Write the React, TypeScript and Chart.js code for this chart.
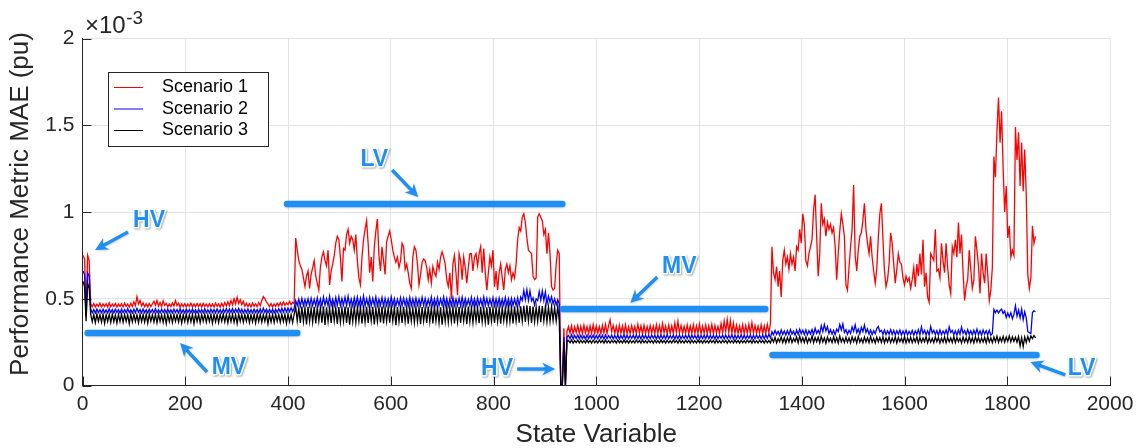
import React, { useEffect, useRef } from 'react';
import { Chart, registerables } from 'chart.js';

Chart.register(...registerables);

// ---------------- DATA (values in units of 10^-3 pu) ----------------
// Samples every 3rd state variable; each segment starts at the given state variable.
const STATE_STEP = 3;
const SEGMENT_START = [1, 16, 415, 931, 946, 1342];

const X_TICKS = [0, 200, 400, 600, 800, 1000, 1200, 1400, 1600, 1800, 2000];
const Y_TICKS = [0, 0.5, 1, 1.5, 2];

// Scenario 1
const s1_hv1 = [0.75, 0.73, 0.44, 0.75, 0.72];
const s1_mv1 = [
  0.47,0.455,0.472,0.452,0.468,0.456,0.474,0.453,0.47,0.455,
  0.471,0.452,0.476,0.454,0.47,0.456,0.473,0.452,0.469,0.455,
  0.472,0.453,0.475,0.456,0.47,0.452,0.474,0.455,0.482,0.46,
  0.512,0.47,0.49,0.458,0.476,0.454,0.471,0.453,0.473,0.455,
  0.47,0.486,0.462,0.49,0.458,0.478,0.455,0.488,0.462,0.474,
  0.453,0.47,0.455,0.476,0.458,0.49,0.46,0.474,0.452,0.471,
  0.455,0.472,0.453,0.47,0.456,0.475,0.452,0.47,0.454,0.473,
  0.455,0.471,0.452,0.474,0.456,0.47,0.453,0.472,0.455,0.47,
  0.453,0.475,0.456,0.471,0.452,0.473,0.455,0.478,0.458,0.482,
  0.46,0.49,0.465,0.5,0.47,0.508,0.472,0.495,0.466,0.485,
  0.458,0.474,0.455,0.472,0.453,0.476,0.456,0.471,0.454,0.478,
  0.46,0.49,0.512,0.5,0.482,0.47,0.455,0.473,0.453,0.47,
  0.456,0.474,0.458,0.478,0.46,0.482,0.462,0.476,0.465,0.485,
  0.466,0.48,0.47,
];
const s1_lv1 = [
  0.85,0.78,0.72,0.69,0.67,0.62,0.57,0.63,0.66,0.56,
  0.64,0.68,0.72,0.63,0.59,0.55,0.68,0.74,0.77,0.72,
  0.69,0.78,0.58,0.66,0.70,0.75,0.82,0.86,0.84,0.74,
  0.60,0.79,0.78,0.87,0.90,0.82,0.86,0.84,0.78,0.87,
  0.72,0.62,0.58,0.74,0.84,0.90,0.95,0.82,0.65,0.74,
  0.60,0.80,0.89,0.96,0.75,0.66,0.80,0.72,0.64,0.83,
  0.86,0.89,0.84,0.78,0.74,0.71,0.74,0.68,0.72,0.82,
  0.80,0.67,0.70,0.65,0.59,0.56,0.74,0.80,0.78,0.70,
  0.58,0.64,0.71,0.73,
  0.72,0.68,0.61,0.67,0.59,0.685,0.65,0.63,0.71,0.67,
  0.74,0.77,0.74,0.70,0.61,0.57,0.65,0.50,0.70,0.75,
  0.65,0.52,0.76,0.72,0.61,0.74,0.68,0.59,0.68,0.76,
  0.76,0.66,0.74,0.76,0.69,0.76,0.80,0.65,0.79,0.65,
  0.55,0.65,0.74,0.69,0.78,0.57,0.66,0.55,0.65,0.70,
  0.62,0.55,0.67,0.70,0.65,0.69,0.61,0.65,0.62,0.70,
  0.84,0.91,0.89,0.97,0.99,0.94,0.85,0.78,0.77,0.76,
  0.63,0.61,0.62,0.97,0.99,0.97,0.95,0.87,0.90,0.76,
  0.88,0.76,0.57,0.55,0.56,0.70,0.78,0.76,
];
const s1_hv2 = [0.0, 0.0, 0.33, 0.0, 0.31];
const s1_mv2 = [
  0.34,0.302,0.345,0.298,0.338,0.304,0.346,0.3,0.342,0.299,
  0.348,0.303,0.34,0.298,0.344,0.301,0.35,0.3,0.343,0.302,
  0.339,0.299,0.347,0.303,0.352,0.3,0.345,0.378,0.31,0.346,
  0.3,0.341,0.298,0.348,0.302,0.344,0.3,0.35,0.301,0.338,
  0.299,0.345,0.303,0.341,0.3,0.353,0.302,0.344,0.298,0.347,
  0.301,0.34,0.3,0.346,0.303,0.342,0.299,0.35,0.302,0.345,
  0.3,0.357,0.304,0.343,0.299,0.348,0.301,0.344,0.3,0.36,
  0.305,0.37,0.303,0.346,0.3,0.341,0.302,0.349,0.299,0.344,
  0.301,0.35,0.3,0.345,0.303,0.355,0.298,0.342,0.302,0.348,
  0.3,0.344,0.301,0.352,0.299,0.346,0.303,0.341,0.3,0.357,
  0.304,0.372,0.31,0.38,0.305,0.375,0.303,0.36,0.301,0.347,
  0.3,0.343,0.302,0.35,0.299,0.345,0.301,0.352,0.3,0.362,
  0.303,0.346,0.3,0.341,0.302,0.349,0.299,0.344,0.301,0.352,
  0.305,0.355,
];
const s1_lv2 = [
  0.80,0.65,0.61,0.685,0.57,0.66,0.51,0.72,0.78,0.70,
  0.74,0.67,0.76,0.70,0.74,0.66,0.80,0.78,0.90,0.82,
  0.99,0.93,0.72,0.69,0.76,0.80,0.84,1.01,1.10,0.86,
  0.63,0.76,1.05,0.93,0.96,0.86,0.94,0.90,0.93,0.88,
  0.91,0.80,0.61,0.76,0.89,0.99,0.93,0.86,0.58,0.55,
  0.68,0.80,0.90,1.156,0.75,0.66,0.78,0.86,0.88,0.95,
  1.05,0.90,0.82,0.76,0.86,0.74,0.66,0.59,0.67,0.85,
  0.99,1.05,0.85,0.66,0.57,0.61,0.70,0.88,0.82,0.70,
  0.59,0.67,0.76,0.71,0.70,0.62,0.58,0.63,0.60,0.62,
  0.56,0.61,0.68,0.57,0.70,0.63,0.76,0.64,0.84,0.57,
  0.65,0.51,0.48,0.76,0.74,0.72,0.90,0.66,0.67,0.62,
  0.82,0.72,0.65,0.82,0.68,0.58,0.53,0.80,0.76,0.84,
  0.74,0.94,0.76,0.87,0.65,0.49,0.57,0.61,0.78,0.67,
  0.56,0.61,0.86,0.78,0.69,0.53,0.76,0.65,0.59,0.76,
  0.64,0.49,0.55,0.68,1.32,1.20,1.47,1.66,1.40,1.58,
  1.25,1.00,1.15,0.85,0.92,0.74,0.78,0.75,1.49,1.30,
  1.46,1.15,1.40,1.12,1.36,1.10,0.64,0.56,0.62,0.92,
  0.82,0.86,
];

// Scenario 2
const s2_hv1 = [0.66, 0.64, 0.40, 0.65, 0.63];
const s2_mv1 = [
  0.44,0.42,0.438,0.418,0.441,0.421,0.437,0.419,0.44,0.42,
  0.436,0.418,0.442,0.421,0.438,0.419,0.44,0.42,0.437,0.418,
  0.441,0.42,0.438,0.419,0.443,0.421,0.437,0.418,0.44,0.42,
  0.445,0.422,0.438,0.419,0.441,0.42,0.437,0.418,0.44,0.421,
  0.438,0.419,0.442,0.42,0.437,0.418,0.44,0.421,0.438,0.419,
  0.441,0.42,0.437,0.418,0.44,0.421,0.438,0.419,0.442,0.42,
  0.437,0.418,0.44,0.421,0.438,0.419,0.441,0.42,0.437,0.418,
  0.44,0.421,0.438,0.419,0.442,0.42,0.437,0.418,0.44,0.421,
  0.438,0.419,0.441,0.42,0.437,0.418,0.44,0.421,0.443,0.42,
  0.441,0.421,0.444,0.42,0.442,0.422,0.445,0.421,0.44,0.419,
  0.438,0.42,0.441,0.419,0.437,0.418,0.44,0.421,0.438,0.419,
  0.442,0.42,0.446,0.421,0.44,0.419,0.438,0.42,0.441,0.418,
  0.44,0.421,0.443,0.422,0.445,0.423,0.446,0.424,0.447,0.425,
  0.448,0.426,0.447,
];
const s2_lv1 = [
  0.49,0.462,0.498,0.458,0.502,0.46,0.496,0.463,0.5,0.459,
  0.503,0.461,0.497,0.46,0.505,0.462,0.499,0.458,0.51,0.463,
  0.5,0.46,0.515,0.461,0.498,0.459,0.507,0.462,0.512,0.46,
  0.501,0.463,0.509,0.46,0.514,0.461,0.499,0.458,0.506,0.462,
  0.51,0.46,0.503,0.462,0.516,0.459,0.5,0.461,0.508,0.46,
  0.502,0.463,0.511,0.46,0.498,0.462,0.507,0.458,0.503,0.461,
  0.499,0.46,0.51,0.462,0.501,0.459,0.497,0.461,0.506,0.46,
  0.503,0.462,0.499,0.458,0.509,0.461,0.5,0.46,0.505,0.463,
  0.498,0.46,0.508,0.461,0.502,0.459,0.497,0.462,0.511,0.46,
  0.5,0.461,0.506,0.459,0.499,0.462,0.51,0.46,0.503,0.458,
  0.5,0.462,0.507,0.46,0.498,0.461,0.504,0.459,0.509,0.46,
  0.501,0.462,0.497,0.46,0.508,0.461,0.5,0.459,0.505,0.462,
  0.498,0.46,0.51,0.461,0.502,0.459,0.499,0.462,0.506,0.46,
  0.5,0.461,0.504,0.46,0.498,0.462,0.507,0.459,0.501,0.46,
  0.503,0.461,0.499,0.46,0.505,0.462,0.51,0.49,0.548,0.495,
  0.552,0.49,0.545,0.488,0.505,0.465,0.5,0.49,0.542,0.492,
  0.546,0.49,0.54,0.47,0.515,0.48,0.512,0.47,0.5,0.465,
  0.495,0.47,
];
const s2_hv2 = [0.0, 0.0, 0.28, 0.0, 0.28];
const s2_mv2 = [
  0.288,0.27,0.292,0.268,0.289,0.271,0.291,0.269,0.29,0.27,
  0.287,0.268,0.291,0.27,0.289,0.272,0.29,0.269,0.288,0.27,
  0.292,0.271,0.289,0.268,0.291,0.27,0.288,0.272,0.29,0.269,
  0.289,0.27,0.291,0.268,0.288,0.271,0.292,0.269,0.29,0.27,
  0.288,0.272,0.29,0.269,0.291,0.27,0.289,0.268,0.292,0.271,
  0.29,0.269,0.288,0.27,0.291,0.272,0.289,0.268,0.29,0.27,
  0.291,0.271,0.289,0.269,0.292,0.27,0.288,0.272,0.29,0.268,
  0.289,0.27,0.291,0.269,0.288,0.271,0.29,0.27,0.292,0.268,
  0.29,0.272,0.289,0.27,0.291,0.268,0.288,0.271,0.29,0.269,
  0.292,0.27,0.289,0.271,0.29,0.268,0.291,0.27,0.288,0.272,
  0.29,0.269,0.291,0.27,0.289,0.271,0.292,0.268,0.29,0.27,
  0.288,0.271,0.291,0.269,0.29,0.27,0.289,0.272,0.291,0.268,
  0.29,0.27,0.292,0.271,0.289,0.269,0.291,0.27,0.293,0.272,
  0.295,0.275,
];
const s2_lv2 = [
  0.31,0.292,0.318,0.295,0.312,0.29,0.32,0.294,0.314,0.291,
  0.316,0.293,0.322,0.296,0.313,0.29,0.319,0.295,0.325,0.298,
  0.318,0.294,0.321,0.292,0.316,0.297,0.323,0.295,0.33,0.3,
  0.318,0.298,0.345,0.31,0.352,0.315,0.34,0.3,0.322,0.296,
  0.318,0.293,0.325,0.31,0.352,0.32,0.355,0.305,0.322,0.295,
  0.318,0.3,0.338,0.312,0.35,0.305,0.325,0.298,0.335,0.31,
  0.348,0.305,0.326,0.296,0.32,0.293,0.316,0.298,0.328,0.34,
  0.31,0.318,0.295,0.32,0.293,0.315,0.296,0.322,0.294,0.318,
  0.292,0.316,0.295,0.32,0.29,0.314,0.293,0.318,0.291,0.312,
  0.294,0.317,0.29,0.315,0.296,0.322,0.292,0.338,0.298,0.318,
  0.293,0.315,0.29,0.34,0.302,0.318,0.294,0.316,0.29,0.32,
  0.293,0.314,0.296,0.32,0.292,0.338,0.305,0.318,0.293,0.315,
  0.29,0.32,0.296,0.336,0.3,0.317,0.292,0.322,0.295,0.316,
  0.291,0.318,0.294,0.325,0.292,0.315,0.29,0.32,0.296,0.316,
  0.293,0.318,0.29,0.3,0.438,0.42,0.435,0.418,0.432,0.44,
  0.415,0.43,0.392,0.418,0.395,0.42,0.385,0.41,0.46,0.4,
  0.435,0.39,0.44,0.38,0.425,0.39,0.31,0.305,0.3,0.42,
  0.43,0.425,
];

// Scenario 3
const s3_hv1 = [0.60, 0.57, 0.37, 0.59, 0.56];
const s3_mv1 = [
  0.41,0.368,0.408,0.362,0.412,0.37,0.409,0.365,0.411,0.358,
  0.408,0.369,0.41,0.363,0.412,0.367,0.407,0.36,0.41,0.368,
  0.411,0.364,0.409,0.37,0.408,0.356,0.412,0.366,0.41,0.369,
  0.407,0.362,0.411,0.368,0.409,0.365,0.41,0.359,0.412,0.37,
  0.408,0.366,0.41,0.361,0.411,0.369,0.407,0.364,0.41,0.357,
  0.412,0.368,0.409,0.363,0.41,0.37,0.408,0.366,0.411,0.36,
  0.409,0.369,0.412,0.364,0.408,0.367,0.41,0.356,0.411,0.368,
  0.41,0.362,0.409,0.37,0.412,0.365,0.408,0.369,0.41,0.359,
  0.411,0.367,0.408,0.363,0.41,0.37,0.412,0.366,0.409,0.361,
  0.41,0.368,0.411,0.364,0.408,0.357,0.412,0.369,0.41,0.365,
  0.409,0.37,0.411,0.362,0.408,0.367,0.41,0.36,0.412,0.368,
  0.41,0.365,0.409,0.369,0.411,0.356,0.408,0.366,0.41,0.363,
  0.412,0.37,0.409,0.364,0.411,0.368,0.41,0.358,0.412,0.367,
  0.409,0.363,0.411,
];
const s3_lv1 = [
  0.452,0.372,0.447,0.36,0.455,0.368,0.449,0.352,0.453,0.37,
  0.446,0.365,0.454,0.358,0.45,0.371,0.448,0.362,0.455,0.349,
  0.451,0.369,0.447,0.36,0.453,0.372,0.449,0.355,0.452,0.366,
  0.448,0.37,0.455,0.361,0.45,0.35,0.447,0.368,0.453,0.363,
  0.449,0.371,0.452,0.357,0.446,0.366,0.454,0.36,0.45,0.372,
  0.453,0.352,0.448,0.369,0.451,0.364,0.455,0.358,0.447,0.37,
  0.45,0.362,0.453,0.371,0.449,0.348,0.452,0.367,0.446,0.36,
  0.454,0.369,0.448,0.356,0.451,0.372,0.447,0.363,0.453,0.368,
  0.449,0.354,0.452,0.37,0.446,0.361,0.455,0.367,0.45,0.358,
  0.453,0.371,0.448,0.362,0.451,0.35,0.447,0.369,0.454,0.364,
  0.45,0.37,0.452,0.357,0.449,0.366,0.453,0.36,0.448,0.372,
  0.451,0.353,0.455,0.368,0.447,0.362,0.452,0.371,0.449,0.359,
  0.453,0.367,0.448,0.364,0.45,0.351,0.454,0.37,0.447,0.361,
  0.452,0.369,0.449,0.356,0.451,0.372,0.446,0.363,0.453,0.368,
  0.45,0.358,0.455,0.37,0.448,0.362,0.457,0.371,0.46,0.366,
  0.462,0.372,0.458,0.36,0.455,0.368,0.452,0.37,0.46,0.365,
  0.458,0.372,0.456,0.367,0.453,0.37,0.455,0.375,0.45,0.372,
  0.455,0.375,
];
const s3_hv2 = [0.0, 0.0, 0.25, 0.0, 0.255];
const s3_mv2 = [
  0.26,0.246,0.263,0.244,0.259,0.247,0.262,0.245,0.261,0.246,
  0.258,0.245,0.263,0.247,0.26,0.244,0.262,0.246,0.259,0.245,
  0.262,0.247,0.26,0.244,0.263,0.246,0.259,0.245,0.261,0.247,
  0.26,0.244,0.262,0.246,0.258,0.245,0.263,0.247,0.26,0.244,
  0.261,0.246,0.259,0.245,0.262,0.247,0.26,0.244,0.263,0.246,
  0.259,0.245,0.261,0.247,0.26,0.244,0.262,0.246,0.258,0.245,
  0.263,0.247,0.26,0.244,0.261,0.246,0.259,0.245,0.262,0.247,
  0.26,0.244,0.263,0.246,0.259,0.245,0.261,0.247,0.26,0.244,
  0.262,0.246,0.258,0.245,0.263,0.247,0.26,0.244,0.261,0.246,
  0.259,0.245,0.262,0.247,0.26,0.244,0.263,0.246,0.259,0.245,
  0.261,0.247,0.26,0.244,0.262,0.246,0.258,0.245,0.263,0.247,
  0.26,0.244,0.261,0.246,0.259,0.245,0.262,0.247,0.26,0.244,
  0.263,0.246,0.259,0.245,0.261,0.247,0.26,0.244,0.262,0.246,
  0.26,0.245,
];
const s3_lv2 = [
  0.272,0.25,0.278,0.246,0.27,0.252,0.28,0.248,0.274,0.245,
  0.276,0.25,0.282,0.247,0.271,0.253,0.279,0.246,0.284,0.25,
  0.275,0.248,0.28,0.245,0.272,0.251,0.286,0.247,0.276,0.252,
  0.278,0.246,0.283,0.25,0.275,0.244,0.279,0.252,0.272,0.247,
  0.281,0.249,0.276,0.245,0.285,0.251,0.273,0.247,0.278,0.25,
  0.274,0.246,0.28,0.252,0.276,0.244,0.283,0.249,0.271,0.246,
  0.279,0.251,0.275,0.247,0.282,0.25,0.272,0.245,0.278,0.252,
  0.276,0.248,0.281,0.246,0.274,0.251,0.279,0.247,0.273,0.25,
  0.28,0.245,0.276,0.252,0.272,0.248,0.282,0.246,0.275,0.25,
  0.278,0.247,0.273,0.251,0.28,0.245,0.276,0.249,0.274,0.252,
  0.281,0.246,0.275,0.25,0.272,0.247,0.279,0.252,0.276,0.245,
  0.273,0.25,0.28,0.246,0.277,0.251,0.274,0.248,0.282,0.247,
  0.276,0.252,0.272,0.245,0.279,0.25,0.275,0.247,0.281,0.249,
  0.274,0.246,0.28,0.251,0.276,0.248,0.273,0.25,0.278,0.246,
  0.282,0.25,0.275,0.247,0.279,0.252,0.284,0.249,0.277,0.253,
  0.283,0.25,0.279,0.254,0.285,0.251,0.28,0.255,0.278,0.25,
  0.282,0.228,0.276,0.225,0.28,0.248,0.283,0.255,0.286,0.27,
  0.288,0.275,
];

const SERIES_LABELS = ['Scenario 1', 'Scenario 2', 'Scenario 3'];
const SERIES_COLORS = ['#ff0000', '#0000ff', '#000000'];
const SERIES_SEGMENTS = [
  [s1_hv1, s1_mv1, s1_lv1, s1_hv2, s1_mv2, s1_lv2],
  [s2_hv1, s2_mv1, s2_lv1, s2_hv2, s2_mv2, s2_lv2],
  [s3_hv1, s3_mv1, s3_lv1, s3_hv2, s3_mv2, s3_lv2],
];

// Annotations (in data coordinates)
const ANNOT_BARS = [
  { x0: 10, x1: 418, y: 0.303 },
  { x0: 398, x1: 934, y: 1.046 },
  { x0: 935, x1: 1329, y: 0.441 },
  { x0: 1343, x1: 1857, y: 0.176 },
];
const ANNOT_LABELS = [
  { text: 'HV', x: 129.5, y: 0.948 },
  { text: 'MV', x: 285, y: 0.101 },
  { text: 'LV', x: 568, y: 1.3 },
  { text: 'HV', x: 807, y: 0.095 },
  { text: 'MV', x: 1161.5, y: 0.683 },
  { text: 'LV', x: 1944.5, y: 0.095 },
];
const ANNOT_ARROWS = [
  { x0: 88.6, y0: 0.885, x1: 24.3, y1: 0.781 },
  { x0: 242.5, y0: 0.078, x1: 190, y1: 0.245 },
  { x0: 602.7, y0: 1.242, x1: 653.4, y1: 1.086 },
  { x0: 846, y0: 0.095, x1: 920, y1: 0.095 },
  { x0: 1118.8, y0: 0.625, x1: 1066.2, y1: 0.476 },
  { x0: 1913, y0: 0.061, x1: 1845, y1: 0.135 },
];

// ---------------- RENDERING ----------------
const FONT = "'Liberation Sans', Arial, Helvetica, sans-serif";
const AXIS_COLOR = '#262626';
const ANNOT_BLUE = '#1f8ff5';

function buildPoints(segments: number[][]) {
  const pts: { x: number; y: number }[] = [];
  segments.forEach((vals, k) => {
    vals.forEach((v, j) => pts.push({ x: SEGMENT_START[k] + j * STATE_STEP, y: v }));
  });
  return pts;
}

function drawArrow(ctx: CanvasRenderingContext2D, x0: number, y0: number, x1: number, y1: number) {
  const ang = Math.atan2(y1 - y0, x1 - x0);
  const headLen = 13;
  const headW = 6.5;
  const notch = 9;
  const cos = Math.cos(ang);
  const sin = Math.sin(ang);
  const bx = x1 - notch * cos;
  const by = y1 - notch * sin;
  ctx.beginPath();
  ctx.moveTo(x0, y0);
  ctx.lineTo(bx, by);
  ctx.lineWidth = 3.5;
  ctx.lineCap = 'butt';
  ctx.stroke();
  const hx = x1 - headLen * cos;
  const hy = y1 - headLen * sin;
  ctx.beginPath();
  ctx.moveTo(x1, y1);
  ctx.lineTo(hx + headW * sin, hy - headW * cos);
  ctx.lineTo(bx, by);
  ctx.lineTo(hx - headW * sin, hy + headW * cos);
  ctx.closePath();
  ctx.fill();
}

const decorPlugin = {
  id: 'matlabDecor',
  beforeDatasetsDraw(chart: any) {
    const { ctx, chartArea, scales } = chart;
    const xs = scales.x;
    const ys = scales.y;
    ctx.save();
    ctx.strokeStyle = AXIS_COLOR;
    ctx.lineWidth = 1;
    ctx.beginPath();
    X_TICKS.forEach((v) => {
      const px = Math.round(xs.getPixelForValue(v)) + 0.5;
      ctx.moveTo(px, chartArea.bottom);
      ctx.lineTo(px, chartArea.bottom - 9);
    });
    Y_TICKS.forEach((v) => {
      const py = Math.round(ys.getPixelForValue(v)) + 0.5;
      ctx.moveTo(chartArea.left, py);
      ctx.lineTo(chartArea.left + 9, py);
    });
    ctx.stroke();
    ctx.restore();
  },
  afterDatasetsDraw(chart: any) {
    const { ctx, chartArea, scales } = chart;
    const xs = scales.x;
    const ys = scales.y;
    const X = (v: number) => xs.getPixelForValue(v);
    const Y = (v: number) => ys.getPixelForValue(v);

    // annotation bars
    ctx.save();
    ctx.strokeStyle = ANNOT_BLUE;
    ctx.fillStyle = ANNOT_BLUE;
    ctx.shadowColor = 'rgba(0,0,0,0.18)';
    ctx.shadowBlur = 2;
    ctx.shadowOffsetX = 0.5;
    ctx.shadowOffsetY = 1;
    ANNOT_BARS.forEach((b) => {
      ctx.beginPath();
      ctx.lineCap = 'round';
      ctx.lineWidth = 6.5;
      ctx.moveTo(X(b.x0), Y(b.y));
      ctx.lineTo(X(b.x1), Y(b.y));
      ctx.stroke();
    });
    ANNOT_ARROWS.forEach((a) => drawArrow(ctx, X(a.x0), Y(a.y0), X(a.x1), Y(a.y1)));
    ctx.restore();

    // annotation labels
    ctx.save();
    ctx.font = `bold 23px ${FONT}`;
    ctx.textAlign = 'center';
    ctx.textBaseline = 'middle';
    ANNOT_LABELS.forEach((l) => {
      const px = X(l.x);
      const py = Y(l.y);
      ctx.shadowColor = 'rgba(0,0,0,0.35)';
      ctx.shadowBlur = 2;
      ctx.shadowOffsetX = 1;
      ctx.shadowOffsetY = 1;
      ctx.strokeStyle = '#ffffff';
      ctx.lineWidth = 3;
      ctx.lineJoin = 'round';
      ctx.strokeText(l.text, px, py);
      ctx.shadowColor = 'rgba(0,0,0,0)';
      ctx.fillStyle = ANNOT_BLUE;
      ctx.fillText(l.text, px, py);
    });
    ctx.restore();

    // legend
    ctx.save();
    const lx = chartArea.left + 25.5;
    const ly = chartArea.top + 33.5;
    const lw = 160;
    const lh = 74;
    ctx.fillStyle = '#ffffff';
    ctx.fillRect(lx, ly, lw, lh);
    ctx.strokeStyle = AXIS_COLOR;
    ctx.lineWidth = 1;
    ctx.strokeRect(lx + 0.5, ly + 0.5, lw, lh);
    ctx.font = `18px ${FONT}`;
    ctx.textAlign = 'left';
    ctx.textBaseline = 'middle';
    chart.data.datasets.forEach((ds: any, i: number) => {
      const yy = ly + 15.5 + i * 21.5;
      ctx.strokeStyle = ds.borderColor;
      ctx.lineWidth = 1;
      ctx.beginPath();
      ctx.moveTo(lx + 6, yy);
      ctx.lineTo(lx + 35, yy);
      ctx.stroke();
      ctx.fillStyle = '#000000';
      ctx.fillText(ds.label, lx + 54, yy);
    });
    ctx.restore();
  },
  afterDraw(chart: any) {
    const { ctx, chartArea } = chart;
    ctx.save();
    ctx.fillStyle = AXIS_COLOR;
    // exponent
    ctx.textAlign = 'left';
    ctx.textBaseline = 'alphabetic';
    ctx.font = `24px ${FONT}`;
    const ex = chartArea.left + 2.5;
    ctx.fillText('\u00d710', ex, 33);
    const w = ctx.measureText('\u00d710').width;
    ctx.font = `19px ${FONT}`;
    ctx.fillText('-3', ex + w + 0.5, 23.5);
    // axis titles
    ctx.font = `26px ${FONT}`;
    ctx.textAlign = 'center';
    ctx.textBaseline = 'middle';
    ctx.fillText('State Variable', (chartArea.left + chartArea.right) / 2, 435);
    ctx.translate(21, 204);
    ctx.rotate(-Math.PI / 2);
    ctx.fillText('Performance Metric MAE (pu)', 0, 0);
    ctx.restore();
  },
};

export default function App() {
  const canvasRef = useRef<HTMLCanvasElement | null>(null);

  useEffect(() => {
    const canvas = canvasRef.current;
    if (!canvas) return;
    const datasets = SERIES_LABELS.map((label, i) => ({
      label,
      data: buildPoints(SERIES_SEGMENTS[i]),
      borderColor: SERIES_COLORS[i],
      backgroundColor: SERIES_COLORS[i],
      borderWidth: 1.3,
      pointRadius: 0,
      tension: 0,
      fill: false,
      order: 3 - i,
    }));
    const chart = new Chart(canvas, {
      type: 'line',
      data: { datasets },
      options: {
        animation: false,
        responsive: false,
        devicePixelRatio: 1,
        events: [],
        layout: { padding: { left: 0, top: 38.5, right: 31, bottom: 0 } },
        plugins: {
          legend: { display: false },
          tooltip: { enabled: false },
          title: { display: false },
        },
        scales: {
          x: {
            type: 'linear',
            min: 0,
            max: 2000,
            afterFit: (s: any) => {
              s.height = 62.5;
            },
            ticks: {
              stepSize: 200,
              padding: 6,
              maxRotation: 0,
              autoSkip: false,
              color: AXIS_COLOR,
              font: { size: 21, family: FONT },
              callback: (v: any) => String(v),
            },
            grid: { color: '#e3e3e3', drawTicks: false, lineWidth: 1 },
            border: { display: true, color: AXIS_COLOR, width: 1 },
          },
          y: {
            type: 'linear',
            min: 0,
            max: 2,
            afterFit: (s: any) => {
              s.width = 82.5;
            },
            ticks: {
              stepSize: 0.5,
              padding: 8,
              color: AXIS_COLOR,
              font: { size: 21, family: FONT },
              callback: (v: any) => String(v),
            },
            grid: { color: '#e3e3e3', drawTicks: false, lineWidth: 1 },
            border: { display: true, color: AXIS_COLOR, width: 1 },
          },
        },
      },
      plugins: [decorPlugin],
    } as any);
    return () => chart.destroy();
  }, []);

  return (
    <div style={{ position: 'absolute', left: 0, top: 0, width: 1141, height: 448, background: '#ffffff' }}>
      <canvas ref={canvasRef} width={1141} height={448} style={{ display: 'block' }} />
    </div>
  );
}
